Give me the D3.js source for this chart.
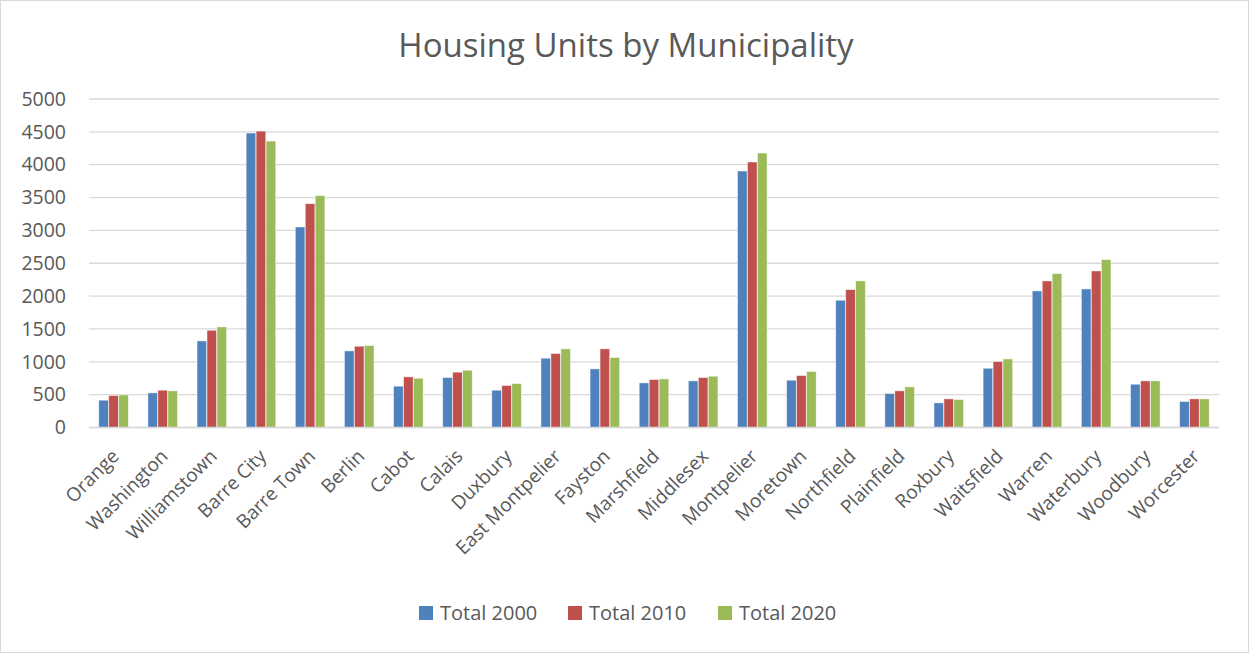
<!DOCTYPE html>
<meta charset="utf-8">
<style>
  body { margin: 0; background: #fff; }
  text { font-family: "Open Sans", sans-serif; fill: #595959; }
</style>
<body>
<script src="https://d3js.org/d3.v7.min.js"></script>
<script>

var towns = ["Orange", "Washington", "Williamstown", "Barre City", "Barre Town", "Berlin",
  "Cabot", "Calais", "Duxbury", "East Montpelier", "Fayston", "Marshfield", "Middlesex",
  "Montpelier", "Moretown", "Northfield", "Plainfield", "Roxbury", "Waitsfield", "Warren",
  "Waterbury", "Woodbury", "Worcester"];

var seriesNames = ["Total 2000", "Total 2010", "Total 2020"];
var colors = ["#4f81bd", "#c0504d", "#9bbb59"];

var total2000 = [416, 527, 1318, 4482, 3052, 1166, 629, 760, 568, 1055, 892, 679, 710,
  3904, 720, 1937, 517, 375, 902, 2079, 2109, 659, 395];
var total2010 = [487, 568, 1480, 4512, 3407, 1237, 771, 842, 639, 1126, 1197, 730, 760,
  4041, 791, 2099, 558, 436, 1004, 2231, 2383, 710, 436];
var total2020 = [497, 558, 1531, 4360, 3529, 1247, 750, 872, 669, 1197, 1065, 740, 781,
  4178, 852, 2231, 619, 426, 1044, 2342, 2555, 710, 436];

var yTicks = [0, 500, 1000, 1500, 2000, 2500, 3000, 3500, 4000, 4500, 5000];

var width = 1249, height = 653;
var margin = {top: 99, right: 30, bottom: 225.5, left: 89};

var svg = d3.select("body").append("svg")
    .attr("width", width)
    .attr("height", height);

svg.append("rect")
    .attr("x", 0.5).attr("y", 0.5)
    .attr("width", width - 1).attr("height", height - 1)
    .attr("fill", "#fff")
    .attr("stroke", "#d9d9d9");

svg.append("text")
    .attr("x", 626)
    .attr("y", 57)
    .attr("text-anchor", "middle")
    .style("font-size", "33px")
    .text("Housing Units by Municipality");

var x = d3.scaleBand()
    .domain(towns)
    .range([margin.left, width - margin.right]);

var y = d3.scaleLinear()
    .domain([0, 5000])
    .range([height - margin.bottom, margin.top]);

var x1 = d3.scaleBand()
    .domain(d3.range(3))
    .range([0, x.bandwidth()])
    .paddingOuter(0.98)
    .paddingInner(0.03);

// gridlines
svg.append("g")
  .selectAll("line")
  .data(yTicks)
  .join("line")
    .attr("x1", x.range()[0])
    .attr("x2", x.range()[1])
    .attr("y1", function(d) { return y(d); })
    .attr("y2", function(d) { return y(d); })
    .attr("stroke", "#d9d9d9")
    .attr("stroke-width", 1.3);

// y labels
var yAxis = svg.append("g")
    .attr("transform", "translate(66,0)")
    .call(d3.axisLeft(y).tickValues(yTicks).tickFormat(d3.format("d")).tickSize(0).tickPadding(0));
yAxis.select(".domain").remove();
yAxis.selectAll("text")
    .style("font-family", "Open Sans, sans-serif")
    .style("font-size", "19.5px")
    .attr("fill", "#595959");

var data = [total2000, total2010, total2020];

var groups = svg.append("g")
  .selectAll("g")
  .data(towns)
  .join("g")
    .attr("transform", function(d) { return "translate(" + x(d) + ",0)"; });

groups.selectAll("rect")
  .data(function(d, i) { return data.map(function(s, k) { return {k: k, v: s[i]}; }); })
  .join("rect")
    .attr("x", function(d) { return x1(d.k); })
    .attr("width", x1.bandwidth())
    .attr("y", function(d) { return y(d.v); })
    .attr("height", function(d) { return y(0) - y(d.v); })
    .attr("fill", function(d) { return colors[d.k]; })
    .attr("stroke", "#fff")
    .attr("stroke-opacity", 0.6)
    .attr("stroke-width", 0.8);

// baseline
svg.append("line")
    .attr("x1", x.range()[0]).attr("x2", x.range()[1])
    .attr("y1", y(0)).attr("y2", y(0))
    .attr("stroke", "#d9d9d9")
    .attr("stroke-width", 1.3);

// x labels
svg.append("g")
  .selectAll("text")
  .data(towns)
  .join("text")
    .attr("transform", function(d) {
      return "translate(" + (x(d) + x.bandwidth() / 2 - 3) + ",448) rotate(-45)";
    })
    .attr("text-anchor", "end")
    .attr("dy", "0.7em")
    .style("font-size", "19px")
    .text(function(d) { return d; });

// legend
var legendX = [419, 568, 718];
var legend = svg.append("g")
  .selectAll("g")
  .data(seriesNames)
  .join("g")
    .attr("transform", function(d, i) { return "translate(" + legendX[i] + ",606)"; });

legend.append("rect")
    .attr("width", 14).attr("height", 14)
    .attr("fill", function(d, i) { return colors[i]; });

legend.append("text")
    .attr("x", 21)
    .attr("y", 14)
    .style("font-size", "20px")
    .text(function(d) { return d; });

</script>
